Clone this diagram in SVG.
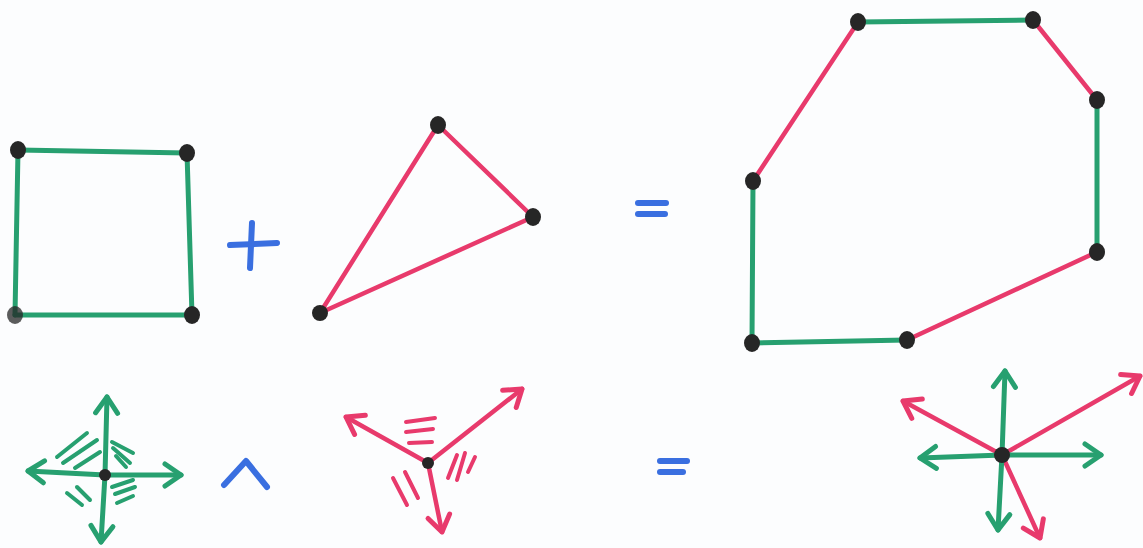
<svg xmlns="http://www.w3.org/2000/svg" width="1143" height="548" viewBox="0 0 1143 548">
<style>
.g{stroke:#27a070;stroke-width:5;fill:none;stroke-linecap:round;stroke-linejoin:round}
.p{stroke:#e83a6c;stroke-width:4.5;fill:none;stroke-linecap:round;stroke-linejoin:round}
.b{stroke:#3a6fe0;stroke-width:6;fill:none;stroke-linecap:round;stroke-linejoin:round}
.h{stroke-width:4}
.dot{fill:#262626}
.ag{marker-end:url(#mg)}
.ap{marker-end:url(#mp)}
</style>
<defs>
<marker id="mg" markerUnits="userSpaceOnUse" markerWidth="30" markerHeight="30" viewBox="0 0 30 30" refX="22" refY="15" orient="auto">
<path d="M6,4 L22,15 L6,26" fill="none" stroke="#27a070" stroke-width="5" stroke-linecap="round" stroke-linejoin="round"/>
</marker>
<marker id="mp" markerUnits="userSpaceOnUse" markerWidth="30" markerHeight="30" viewBox="0 0 30 30" refX="22" refY="15" orient="auto">
<path d="M6,4 L22,15 L6,26" fill="none" stroke="#e83a6c" stroke-width="5" stroke-linecap="round" stroke-linejoin="round"/>
</marker>
</defs>
<rect width="1143" height="548" fill="#fcfdfe"/>
<g id="connectors">
<line class="g" x1="18" y1="150" x2="187" y2="153"/>
<line class="g" x1="18" y1="150" x2="15" y2="315"/>
<line class="g" x1="187" y1="153" x2="192" y2="315"/>
<line class="g" x1="15" y1="315" x2="192" y2="315"/>
<line class="p" x1="438" y1="125" x2="533" y2="217"/>
<line class="p" x1="533" y1="217" x2="320" y2="313"/>
<line class="p" x1="320" y1="313" x2="438" y2="125"/>
<line class="p" x1="753" y1="181" x2="858" y2="22" stroke-width="5.5"/>
<line class="g" x1="858" y1="22" x2="1033" y2="20"/>
<line class="p" x1="1033" y1="20" x2="1097" y2="100"/>
<line class="g" x1="1097" y1="100" x2="1097" y2="252"/>
<line class="p" x1="1097" y1="252" x2="907" y2="340"/>
<line class="g" x1="907" y1="340" x2="752" y2="343"/>
<line class="g" x1="752" y1="343" x2="753" y2="181"/>
</g>
<g id="square">
<ellipse class="dot" cx="18" cy="150" rx="8" ry="9"/>
<ellipse class="dot" cx="187" cy="153" rx="8" ry="9"/>
<ellipse class="dot" cx="15" cy="315" rx="8" ry="9" fill-opacity="0.75"/>
<ellipse class="dot" cx="192" cy="315" rx="8" ry="9"/>
</g>
<g id="plus">
<line class="b" x1="230" y1="245" x2="277" y2="243"/>
<line class="b" x1="252" y1="223" x2="250" y2="268"/>
</g>
<g id="triangle">
<ellipse class="dot" cx="438" cy="125" rx="8" ry="9"/>
<ellipse class="dot" cx="533" cy="217" rx="8" ry="9"/>
<ellipse class="dot" cx="320" cy="313" rx="8" ry="8"/>
</g>
<g id="equals-top">
<line class="b" x1="638" y1="203" x2="666" y2="203"/>
<line class="b" x1="638" y1="214" x2="665" y2="214"/>
</g>
<g id="polygon">
<ellipse class="dot" cx="858" cy="22" rx="8" ry="9"/>
<ellipse class="dot" cx="1033" cy="20" rx="8" ry="9"/>
<ellipse class="dot" cx="1097" cy="100" rx="8" ry="9"/>
<ellipse class="dot" cx="1097" cy="252" rx="8" ry="9"/>
<ellipse class="dot" cx="907" cy="340" rx="8" ry="9"/>
<ellipse class="dot" cx="752" cy="343" rx="8" ry="9"/>
<ellipse class="dot" cx="753" cy="181" rx="8" ry="9"/>
</g>
<g id="green-cone">
<line class="g ag" x1="105" y1="475" x2="107" y2="397"/>
<line class="g ag" x1="105" y1="475" x2="101" y2="542"/>
<line class="g ag" x1="105" y1="475" x2="28" y2="471"/>
<line class="g ag" x1="105" y1="475" x2="181" y2="475"/>
<line class="g h" x1="57" y1="457" x2="87" y2="433"/>
<line class="g h" x1="63" y1="463" x2="97" y2="440"/>
<line class="g h" x1="75" y1="468" x2="100" y2="452"/>
<line class="g h" x1="112" y1="442" x2="133" y2="453"/>
<line class="g h" x1="113" y1="448" x2="130" y2="463"/>
<line class="g h" x1="116" y1="456" x2="126" y2="467"/>
<line class="g h" x1="67" y1="493" x2="82" y2="505"/>
<line class="g h" x1="77" y1="487" x2="90" y2="500"/>
<line class="g h" x1="112" y1="487" x2="133" y2="480"/>
<line class="g h" x1="115" y1="494" x2="135" y2="487"/>
<line class="g h" x1="117" y1="503" x2="133" y2="496"/>
<circle class="dot" cx="105" cy="475" r="6"/>
</g>
<g id="wedge">
<polyline class="b" points="224,485 246,461 267,487" stroke-width="5"/>
</g>
<g id="pink-cone">
<line class="p ap" x1="428" y1="463" x2="522" y2="389"/>
<line class="p ap" x1="428" y1="463" x2="346" y2="417"/>
<line class="p ap" x1="428" y1="463" x2="442" y2="532"/>
<line class="p h" x1="406" y1="422" x2="435" y2="418"/>
<line class="p h" x1="406" y1="432" x2="433" y2="429"/>
<line class="p h" x1="409" y1="443" x2="432" y2="442"/>
<line class="p h" x1="448" y1="478" x2="457" y2="455"/>
<line class="p h" x1="457" y1="480" x2="465" y2="453"/>
<line class="p h" x1="468" y1="472" x2="475" y2="457"/>
<line class="p h" x1="393" y1="478" x2="407" y2="505"/>
<line class="p h" x1="405" y1="472" x2="418" y2="498"/>
<circle class="dot" cx="428" cy="463" r="6"/>
</g>
<g id="equals-bottom">
<line class="b" x1="660" y1="461" x2="687" y2="461"/>
<line class="b" x1="660" y1="472" x2="683" y2="472"/>
</g>
<g id="sum-cone">
<line class="p ap" x1="1002" y1="455" x2="1140" y2="376"/>
<line class="p ap" x1="1002" y1="455" x2="903" y2="401"/>
<line class="p ap" x1="1002" y1="455" x2="1040" y2="538"/>
<line class="g ag" x1="1002" y1="455" x2="1005" y2="371"/>
<line class="g ag" x1="1002" y1="455" x2="998" y2="530"/>
<line class="g ag" x1="1002" y1="455" x2="920" y2="458"/>
<line class="g ag" x1="1002" y1="455" x2="1101" y2="455"/>
<circle class="dot" cx="1002" cy="455" r="8"/>
</g>
</svg>
